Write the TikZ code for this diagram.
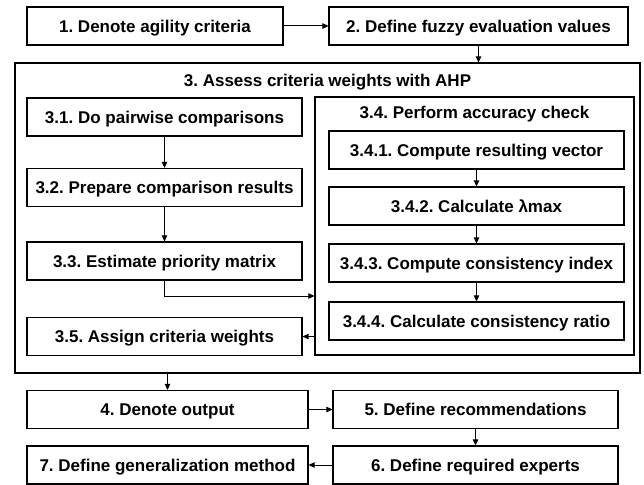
\documentclass[tikz,border=0pt]{standalone}
\usepackage{fontspec}
\setmainfont{Liberation Sans}
\usetikzlibrary{arrows.meta}
\frenchspacing

\tikzset{
    box/.style={draw, line width=1.2pt, minimum height=38pt, inner sep=0pt,
        text height=12.2pt, text depth=0pt,
        font=\bfseries\fontsize{17}{20}\selectfont},
    frame/.style={draw, line width=1.2pt, inner sep=0pt},
    title/.style={inner sep=0pt, text height=12.2pt, text depth=0pt,
        font=\bfseries\fontsize{17}{20}\selectfont},
    arr/.style={-{Triangle[length=6pt, width=5.5pt]}, line width=1pt}
}

\begin{document}
\begin{tikzpicture}[x=1pt, y=-1pt]
    \useasboundingbox (0,0) rectangle (644,484);

    % Top row
    \node[box, minimum width=256pt] (n1) at (155,26) {1. Denote agility criteria};
    \node[box, minimum width=299pt] (n2) at (478.5,26) {2. Define fuzzy evaluation values};

    % AHP block
    \node[frame, minimum width=625pt, minimum height=310pt] (n3) at (327.5,218) {};
    \node[title] (t3) at (327.5,80) {3. Assess criteria weights with AHP};

    \node[box, minimum width=275pt] (n31) at (164.5,117) {3.1. Do pairwise comparisons};
    \node[box, minimum width=275pt] (n32) at (164.5,187.5) {3.2. Prepare comparison results};
    \node[box, minimum width=275pt] (n33) at (164.5,261) {3.3. Estimate priority matrix};
    \node[box, minimum width=275pt] (n35) at (164.5,336.5) {3.5. Assign criteria weights};

    % Accuracy check
    \node[frame, minimum width=319pt, minimum height=258pt] (n34) at (474.5,226) {};
    \node[title] (t34) at (474.5,112) {3.4. Perform accuracy check};
    \node[box, minimum width=295pt] (n341) at (476.5,150) {3.4.1. Compute resulting vector};
    \node[box, minimum width=295pt] (n342) at (476.5,206) {3.4.2. Calculate λmax};
    \node[box, minimum width=295pt] (n343) at (476.5,263) {3.4.3. Compute consistency index};
    \node[box, minimum width=295pt] (n344) at (476.5,321) {3.4.4. Calculate consistency ratio};

    % Bottom rows
    \node[box, minimum width=281pt] (n4) at (167.5,409.5) {4. Denote output};
    \node[box, minimum width=285pt] (n5) at (475.5,409.5) {5. Define recommendations};
    \node[box, minimum width=285pt] (n6) at (475.5,465) {6. Define required experts};
    \node[box, minimum width=281pt] (n7) at (167.5,465) {7. Define generalization method};

    % Connectors
    \draw[arr] (n1) -- (n2);
    \draw[arr] (n2.south) -- (n2.south |- n3.north);
    \draw[arr] (n31) -- (n32);
    \draw[arr] (n32) -- (n33);
    \draw[arr] (n33.south) |- (n34.west |- 0,296);
    \draw[arr] (n34.west |- n35.east) -- (n35.east);
    \draw[arr] (n341) -- (n342);
    \draw[arr] (n342) -- (n343);
    \draw[arr] (n343) -- (n344);
    \draw[arr] (n4.north |- n3.south) -- (n4.north);
    \draw[arr] (n4) -- (n5);
    \draw[arr] (n5) -- (n6);
    \draw[arr] (n6) -- (n7);
\end{tikzpicture}
\end{document}
